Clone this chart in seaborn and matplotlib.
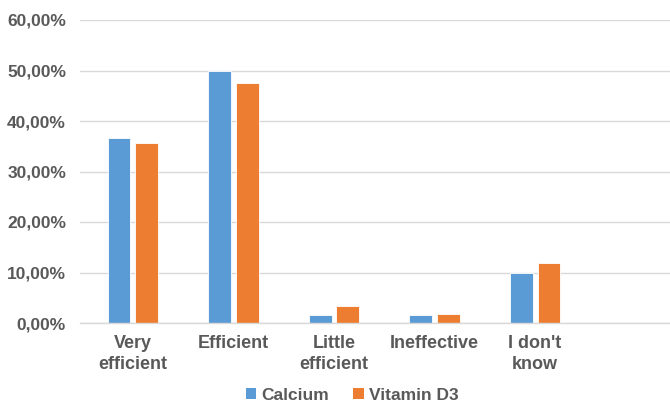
import matplotlib
matplotlib.use("Agg")
import matplotlib.pyplot as plt
import matplotlib.ticker as mticker
import seaborn as sns
import pandas as pd
from matplotlib.patches import Patch

# Survey answers: perceived efficiency of supplements
categories = ["Very\nefficient", "Efficient", "Little\nefficient", "Ineffective", "I don't\nknow"]
calcium = [0.3667, 0.5000, 0.0167, 0.0167, 0.1000]
vitamin_d3 = [0.3559, 0.4746, 0.0339, 0.0169, 0.1186]
series_names = ["Calcium", "Vitamin D3"]
y_ticks = [0.0, 0.1, 0.2, 0.3, 0.4, 0.5, 0.6]

df = pd.DataFrame({
    "category": categories * 2,
    "value": calcium + vitamin_d3,
    "series": [series_names[0]] * len(categories) + [series_names[1]] * len(categories),
})

sns.set_theme(style="white")
plt.rcParams["font.family"] = ["Liberation Sans", "DejaVu Sans"]

colors = {"Calcium": "#5B9BD5", "Vitamin D3": "#ED7D31"}
text_color = "#595959"

fig = plt.figure(figsize=(6.70, 4.05), dpi=100)
ax = fig.add_axes([80 / 670, 82 / 405, 590 / 670, 303 / 405])

sns.barplot(data=df, x="category", y="value", hue="series", order=categories,
            hue_order=series_names, palette=colors, saturation=1, width=0.55, gap=0.18,
            edgecolor="white", linewidth=0.6, ax=ax, legend=False)

ax.set_ylim(0, 0.6)
ax.set_xlim(-0.527, 5.343)
ax.set_yticks(y_ticks)
ax.yaxis.set_major_formatter(
    mticker.FuncFormatter(lambda v, _: f"{v * 100:.2f}%".replace(".", ","))
)
ax.grid(axis="y", color="#D9D9D9", linewidth=1.0)
ax.set_axisbelow(True)
for side in ["top", "right", "left"]:
    ax.spines[side].set_visible(False)
ax.spines["bottom"].set_color("#D9D9D9")
ax.spines["bottom"].set_linewidth(1.0)

ax.set_xlabel("")
ax.set_ylabel("")
ax.tick_params(axis="both", length=0)
ax.tick_params(axis="y", pad=10, labelsize=12.5, labelcolor=text_color)
ax.tick_params(axis="x", pad=9, labelsize=13, labelcolor=text_color)
for lbl in ax.get_yticklabels() + ax.get_xticklabels():
    lbl.set_fontweight("bold")
for lbl in ax.get_xticklabels():
    lbl.set_linespacing(1.3)

handles = [Patch(facecolor=colors[s], edgecolor="none", label=s) for s in series_names]
leg = fig.legend(handles=handles, loc="center", bbox_to_anchor=(352 / 670, 1 - 395 / 405),
                 ncol=2, frameon=False, handlelength=0.6, handleheight=0.6,
                 handletextpad=0.3, columnspacing=1.4,
                 prop={"size": 12.5, "weight": "bold"})
for t in leg.get_texts():
    t.set_color(text_color)

fig.savefig("out.png", dpi=100)
